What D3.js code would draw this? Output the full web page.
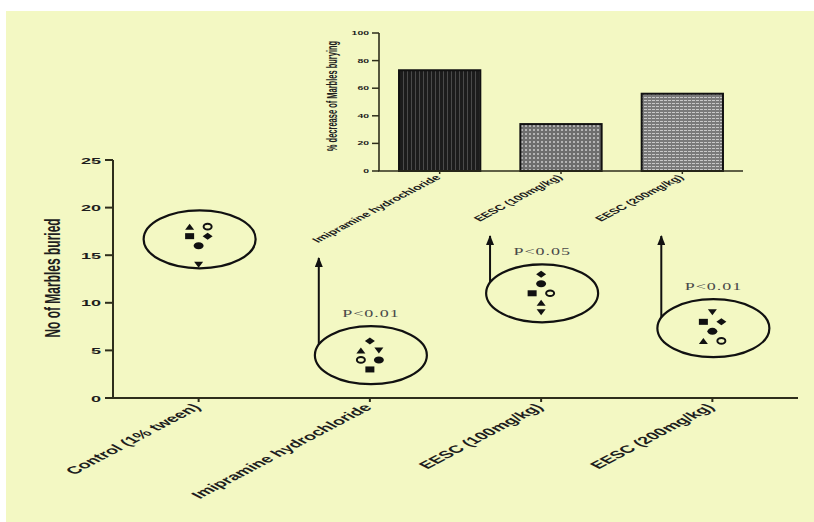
<!DOCTYPE html>
<html><head><meta charset="utf-8">
<script src="https://cdn.jsdelivr.net/npm/d3@7"></script>
<style>body{margin:0;background:#fff}</style>
</head><body>
<svg id="c" width="814" height="522" font-family="'Liberation Sans',Arial,sans-serif"></svg>
<script>
// ---------- data ----------
const groups = ["Control (1% tween)", "Imipramine hydrochloride", "EESC (100mg/kg)", "EESC (200mg/kg)"];
const markerTypes = ["square", "triangle", "circle", "filledCircle", "diamond", "triangleDown"];
const circleVals       = [18, 4, 11, 6];
const squareVals       = [17, 3, 11, 8];
const triangleVals     = [18, 5, 10, 6];
const filledCircleVals = [16, 4, 12, 7];
const diamondVals      = [17, 6, 13, 8];
const triangleDownVals = [14, 5, 9, 9];
const yTicks = [0, 5, 10, 15, 20, 25];
const pLabels = [null, "P<0.01", "P<0.05", "P<0.01"];
const yLabel = "No of Marbles buried";

const insetCats = ["Imipramine hydrochloride", "EESC (100mg/kg)", "EESC (200mg/kg)"];
const insetVals = [73, 34, 56];
const insetTicks = [0, 20, 40, 60, 80, 100];
const insetYLabel = "% decrease of Marbles burying";

// ---------- setup ----------
const S = 1.9; // horizontal stretch of the original picture's text
const svg = d3.select("#c");
const axisCol = "#2e2e1c";
svg.append("rect").attr("x", 6).attr("y", 11).attr("width", 808).attr("height", 511).attr("fill", "#f3f8c3");

const defs = svg.append("defs");
defs.append("marker").attr("id", "ah").attr("viewBox", "0 0 10 10").attr("refX", 9).attr("refY", 5)
  .attr("markerWidth", 10).attr("markerHeight", 8).attr("orient", "auto").attr("markerUnits", "userSpaceOnUse")
  .attr("preserveAspectRatio", "none")
  .append("path").attr("d", "M0,0 L10,5 L0,10 Z").attr("fill", "#111");
// patterns
const p1 = defs.append("pattern").attr("id", "pat1").attr("width", 4).attr("height", 4).attr("patternUnits", "userSpaceOnUse");
p1.append("rect").attr("width", 4).attr("height", 4).attr("fill", "#1c1c1c");
p1.append("rect").attr("x", 3).attr("width", 1).attr("height", 4).attr("fill", "#4a4a4a");
const p2 = defs.append("pattern").attr("id", "pat2").attr("width", 4).attr("height", 4).attr("patternUnits", "userSpaceOnUse");
p2.append("rect").attr("width", 4).attr("height", 4).attr("fill", "#6e6e6e");
p2.append("rect").attr("x", 1).attr("y", 1).attr("width", 2).attr("height", 2).attr("fill", "#b4b4b4");
const p3 = defs.append("pattern").attr("id", "pat3").attr("width", 4).attr("height", 3).attr("patternUnits", "userSpaceOnUse");
p3.append("rect").attr("width", 4).attr("height", 3).attr("fill", "#7a7a7a");
p3.append("rect").attr("y", 1).attr("width", 3).attr("height", 1).attr("fill", "#c8c8c8");
const pats = ["url(#pat1)", "url(#pat2)", "url(#pat3)"];

function sText(parent, x, y, angle, txt, size, anchor) {
  return parent.append("text")
    .attr("transform", `translate(${x},${y}) scale(${S},1) rotate(${angle})`)
    .attr("text-anchor", anchor).attr("font-size", size).attr("font-weight", "bold").attr("fill", "#1e1e1e").text(txt);
}

// ---------- main chart ----------
const x = d3.scaleBand().domain(groups).range([113, 798]).padding(0);
const y = d3.scaleLinear().domain([0, 25]).range([398, 160]);
const cx = g => x(g) + x.bandwidth() / 2;

const gMain = svg.append("g");
gMain.append("line").attr("x1", 113).attr("x2", 113).attr("y1", y(25)).attr("y2", y(0)).attr("stroke", axisCol).attr("stroke-width", 2);
gMain.append("line").attr("x1", 112).attr("x2", 798).attr("y1", y(0)).attr("y2", y(0)).attr("stroke", axisCol).attr("stroke-width", 2);
yTicks.forEach(t => {
  gMain.append("line").attr("x1", 105).attr("x2", 113).attr("y1", y(t)).attr("y2", y(t)).attr("stroke", axisCol).attr("stroke-width", 2);
  sText(gMain, 101, y(t) + 3.5, 0, t, 9.5, "end");
});
groups.forEach(g => {
  gMain.append("line").attr("x1", cx(g)).attr("x2", cx(g)).attr("y1", y(0)).attr("y2", y(0) + 4).attr("stroke", axisCol).attr("stroke-width", 2);
  sText(gMain, cx(g) + 3, y(0) + 10, -45, g, 10.5, "end");
});
sText(gMain, 60, 278, -90, yLabel, 12, "middle");

// points
const seriesVals = {circle: circleVals, square: squareVals, triangle: triangleVals,
  filledCircle: filledCircleVals, diamond: diamondVals, triangleDown: triangleDownVals};
function drawMarker(par, type, px, py) {
  const col = "#111";
  if (type === "circle") par.append("ellipse").attr("cx", px).attr("cy", py).attr("rx", 4).attr("ry", 2.8).attr("fill", "none").attr("stroke", col).attr("stroke-width", 2);
  else if (type === "filledCircle") par.append("ellipse").attr("cx", px).attr("cy", py).attr("rx", 5).attr("ry", 3.5).attr("fill", col);
  else if (type === "square") par.append("rect").attr("x", px - 4.5).attr("y", py - 3).attr("width", 9).attr("height", 6).attr("fill", col);
  else if (type === "triangle") par.append("path").attr("d", `M${px - 4.5},${py + 3}L${px},${py - 3}L${px + 4.5},${py + 3}Z`).attr("fill", col);
  else if (type === "triangleDown") par.append("path").attr("d", `M${px - 4.5},${py - 3}L${px},${py + 3}L${px + 4.5},${py - 3}Z`).attr("fill", col);
  else if (type === "diamond") par.append("path").attr("d", `M${px - 5},${py}L${px},${py - 3.5}L${px + 5},${py}L${px},${py + 3.5}Z`).attr("fill", col);
}
groups.forEach((g, gi) => {
  const vals = markerTypes.map(m => ({m, v: seriesVals[m][gi]}));
  const byV = d3.group(vals, d => d.v);
  byV.forEach(arr => arr.forEach((d, i) => { d.off = (i - (arr.length - 1) / 2) * 18; }));
  vals.forEach(d => drawMarker(gMain, d.m, cx(g) + d.off, y(d.v)));
  const vs = vals.map(d => d.v);
  const ecx = cx(g) + 1, ecy = y(d3.mean(vs));
  const rx = 56, ry = 29;
  gMain.append("ellipse").attr("cx", ecx).attr("cy", ecy).attr("rx", rx).attr("ry", ry)
    .attr("fill", "none").attr("stroke", "#111").attr("stroke-width", 2.2);
  if (pLabels[gi]) {
    gMain.append("text").attr("transform", `translate(${ecx},${ecy - ry - 9}) scale(${S},1)`)
      .attr("text-anchor", "middle").attr("font-family", "'Liberation Serif','DejaVu Serif',serif")
      .attr("font-size", 9.5).attr("fill", "#4a4a4a").attr("letter-spacing", 0.5).text(pLabels[gi]);
    const ax = ecx - rx * 0.93;
    const ay = ecy - ry * Math.sqrt(1 - 0.93 * 0.93);
    const top = gi === 1 ? 258 : 236;
    gMain.append("line").attr("x1", ax).attr("x2", ax).attr("y1", ay).attr("y2", top)
      .attr("stroke", "#111").attr("stroke-width", 2).attr("marker-end", "url(#ah)");
  }
});

// ---------- inset ----------
const xi = d3.scaleBand().domain(insetCats).range([379, 743]).paddingInner(0.33).paddingOuter(0.165);
const yi = d3.scaleLinear().domain([0, 100]).range([171, 33]);
const gIn = svg.append("g");
gIn.selectAll("rect.bar").data(insetVals).join("rect").attr("class", "bar")
  .attr("x", (d, i) => xi(insetCats[i])).attr("width", xi.bandwidth())
  .attr("y", d => yi(d)).attr("height", d => yi(0) - yi(d))
  .attr("fill", (d, i) => pats[i]).attr("stroke", "#111").attr("stroke-width", 2);
gIn.append("line").attr("x1", 379).attr("x2", 379).attr("y1", yi(100)).attr("y2", yi(0)).attr("stroke", axisCol).attr("stroke-width", 1.6);
gIn.append("line").attr("x1", 378).attr("x2", 743).attr("y1", yi(0)).attr("y2", yi(0)).attr("stroke", axisCol).attr("stroke-width", 1.6);
insetTicks.forEach(t => {
  gIn.append("line").attr("x1", 372).attr("x2", 379).attr("y1", yi(t)).attr("y2", yi(t)).attr("stroke", axisCol).attr("stroke-width", 1.5);
  sText(gIn, 369, yi(t) + 2, 0, t, 5.5, "end");
});
insetCats.forEach(c => {
  const c0 = xi(c) + xi.bandwidth() / 2;
  gIn.append("line").attr("x1", c0).attr("x2", c0).attr("y1", yi(0)).attr("y2", yi(0) + 3).attr("stroke", axisCol).attr("stroke-width", 1.5);
  sText(gIn, c0 + 2, yi(0) + 7, -45, c, 7.5, "end");
});
sText(gIn, 337, 96, -90, insetYLabel, 7.5, "middle");
</script>
</body></html>
